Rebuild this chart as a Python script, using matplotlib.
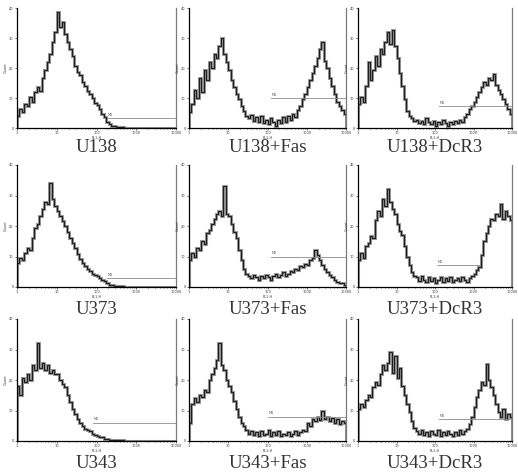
import numpy as np
import matplotlib
matplotlib.use('Agg')
import matplotlib.pyplot as plt
from matplotlib.ticker import FixedLocator, FixedFormatter, NullFormatter

# histogram heights, % of axis height, 64 log bins from 10^0 to 10^4
u138 = [10, 16, 13, 20, 18, 26, 22, 30, 34, 31, 42, 48, 55, 62, 72, 80,
        97, 84, 88, 78, 72, 66, 60, 52, 47, 44, 38, 35, 31, 28, 25, 21,
        19, 16, 12, 9, 5, 3, 2, 1.5, 1, 0.5, 0.5, 0, 0.3, 0, 0, 0,
        0, 0, 0, 0, 0, 0, 0, 0, 0, 0, 0, 0, 0, 0, 0, 0]
u138_fas = [13, 20, 32, 25, 42, 30, 48, 40, 55, 50, 62, 58, 68, 75, 62, 55,
            48, 40, 34, 28, 24, 18, 14, 10, 8, 11, 6, 9, 5, 10, 4, 7,
            3, 8, 5, 2, 7, 4, 9, 5, 10, 7, 12, 9, 15, 18, 24, 28,
            34, 40, 46, 52, 58, 66, 72, 56, 50, 42, 35, 28, 22, 18, 15, 12]
u138_dcr3 = [20, 26, 22, 35, 55, 40, 48, 60, 52, 66, 62, 72, 80, 70, 82, 68,
             58, 46, 35, 24, 14, 10, 8, 6, 7, 4, 6, 3, 8, 5, 3, 6,
             2, 5, 3, 7, 4, 2, 5, 3, 6, 4, 7, 5, 9, 12, 16, 18,
             22, 26, 30, 34, 38, 36, 42, 40, 45, 36, 32, 28, 24, 20, 16, 12]
u373 = [20, 24, 22, 28, 32, 30, 40, 48, 52, 58, 64, 70, 68, 85, 72, 66,
        62, 58, 54, 50, 45, 40, 36, 32, 27, 23, 20, 17, 15, 13, 11, 10,
        9, 7, 6, 5, 3, 2, 2, 1, 1, 0.5, 0.5, 0, 0, 0, 0, 0,
        0, 0, 0, 0, 0, 0, 0, 0, 0, 0, 0, 0, 0, 0, 0, 0]
u373_fas = [22, 28, 25, 32, 30, 38, 35, 44, 47, 52, 56, 60, 62, 58, 83, 60,
            58, 52, 45, 40, 30, 22, 15, 11, 9, 7, 10, 8, 6, 9, 7, 10,
            8, 6, 9, 11, 8, 10, 12, 9, 11, 13, 12, 15, 14, 17, 16, 19,
            18, 22, 24, 30, 26, 22, 18, 15, 12, 10, 8, 6, 4, 3, 3, 2]
u373_dcr3 = [22, 28, 24, 34, 36, 42, 40, 55, 62, 58, 72, 66, 80, 70, 64, 60,
             52, 46, 43, 34, 25, 18, 12, 9, 8, 5, 9, 6, 4, 8, 5, 7,
             3, 6, 8, 4, 7, 5, 8, 4, 6, 7, 5, 8, 6, 4, 7, 9,
             11, 14, 16, 26, 38, 44, 50, 56, 55, 60, 58, 68, 56, 62, 58, 55]
u343 = [45, 38, 52, 48, 55, 50, 62, 58, 80, 60, 64, 58, 62, 56, 58, 55,
        55, 50, 47, 44, 38, 32, 26, 22, 18, 15, 12, 10, 9, 8, 6, 5,
        4, 3, 3, 2, 1.5, 1, 1, 1, 0.5, 0.5, 0.5, 0, 0, 0, 0, 0,
        0, 0, 0, 0, 0, 0, 0, 0, 0, 0, 0, 0, 0, 0, 0, 0]
u343_fas = [15, 30, 35, 32, 38, 36, 42, 40, 50, 55, 60, 66, 80, 62, 58, 50,
            45, 40, 33, 26, 20, 15, 12, 9, 6, 8, 5, 7, 4, 8, 5, 6,
            9, 4, 7, 5, 8, 4, 6, 5, 7, 4, 6, 8, 5, 7, 9, 8,
            15, 12, 18, 16, 20, 17, 25, 18, 20, 16, 19, 15, 18, 14, 16, 15]
u343_dcr3 = [26, 30, 28, 34, 38, 36, 44, 48, 46, 55, 62, 58, 64, 73, 56, 70,
             52, 60, 45, 38, 30, 24, 16, 11, 8, 6, 9, 5, 7, 4, 8, 6,
             5, 9, 4, 7, 5, 8, 6, 4, 7, 5, 9, 6, 8, 10, 14, 20,
             28, 36, 42, 48, 46, 63, 50, 44, 38, 30, 24, 20, 26, 18, 22, 20]

names = ['U138', 'U138+Fas', 'U138+DcR3',
         'U373', 'U373+Fas', 'U373+DcR3',
         'U343', 'U343+Fas', 'U343+DcR3']
hists = [u138, u138_fas, u138_dcr3,
         u373, u373_fas, u373_dcr3,
         u343, u343_fas, u343_dcr3]
# M1 gate: start channel and level (% of axis height)
gate_start = [180, 120, 125, 180, 120, 110, 80, 100, 125]
gate_level = [8, 25, 18, 7, 25, 18, 15, 20, 18]
gate_end = [10000, 10000, 10000, 10000, 10000, 1450, 10000, 10000, 10000]

edges = 10 ** np.linspace(0, 4, 65)

fig = plt.figure(figsize=(5.18, 4.75), dpi=100)
fig.patch.set_facecolor('white')

col_left = [17, 189, 358]
col_w = [159, 157, 154]
row_top = [8, 165, 319]
row_h = [120, 122, 122]
label_y = [147, 309, 463]

for k in range(9):
    r, c = divmod(k, 3)
    ax = fig.add_axes([col_left[c] / 518, 1 - (row_top[r] + row_h[r]) / 475,
                       col_w[c] / 518, row_h[r] / 475])
    ax.stairs(hists[k], edges, color='#a0a0a0', lw=2.2)
    ax.stairs(hists[k], edges, color='#1e1e1e', lw=0.9)
    ax.plot([gate_start[k], gate_end[k]], [gate_level[k]] * 2,
            color='#8c8c8c', lw=0.6)
    ax.text(gate_start[k] * 1.05, gate_level[k] + 2, 'M1', fontsize=2.5,
            color='#555555')
    ax.set_xscale('log')
    ax.set_xlim(1, 10000)
    ax.set_ylim(0, 100)
    ax.xaxis.set_major_locator(FixedLocator([1, 10, 100, 1000, 10000]))
    ax.xaxis.set_major_formatter(FixedFormatter(['1', '10', '100', '1000', '10000']))
    ax.xaxis.set_minor_formatter(NullFormatter())
    ax.set_yticks([0, 25, 50, 75, 100])
    ax.set_yticklabels(['0', '10', '20', '30', '40'])
    ax.tick_params(labelsize=2.5, length=1.5, width=0.5, pad=1, colors='#333333')
    ax.tick_params(which='minor', length=1, width=0.4)
    ax.set_ylabel('Count', fontsize=2.5, labelpad=1, color='#333333')
    ax.set_xlabel('FL1-H', fontsize=2.5, labelpad=0.3, color='#333333')
    ax.spines['top'].set_visible(False)
    ax.spines['left'].set_linewidth(0.9)
    ax.spines['bottom'].set_linewidth(0.9)
    ax.spines['right'].set_color('#7a7a7a')
    ax.spines['right'].set_linewidth(0.9)
    fig.text((col_left[c] + col_w[c] / 2) / 518, 1 - label_y[r] / 475, names[k],
             ha='center', va='center', fontsize=13.5, color='#333333',
             family='Liberation Serif')

fig.savefig('out.png', dpi=100, facecolor='white')
